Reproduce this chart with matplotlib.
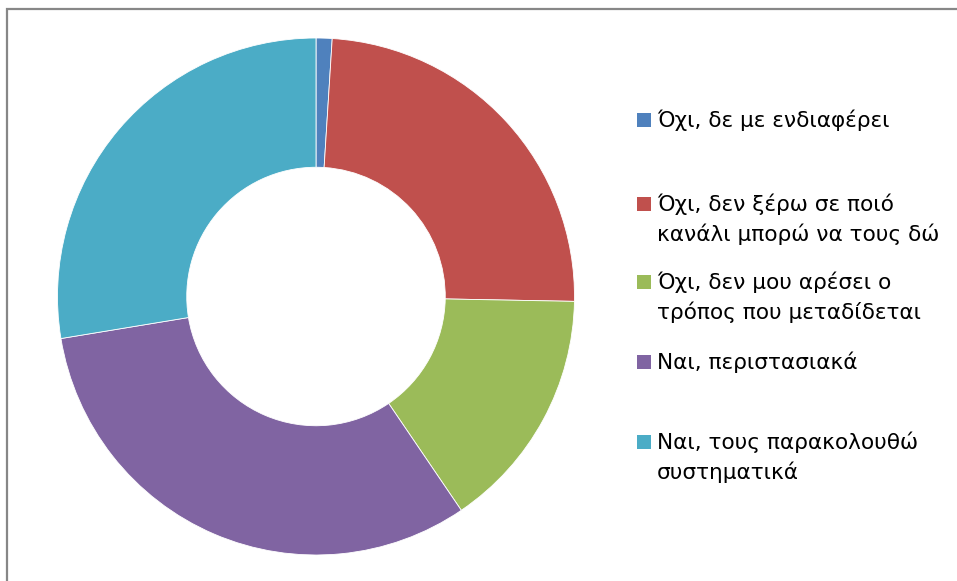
import matplotlib
matplotlib.use("Agg")
import matplotlib.pyplot as plt
from matplotlib.patches import Rectangle

categories = [
    "Όχι, δε με ενδιαφέρει",
    "Όχι, δεν ξέρω σε ποιό\nκανάλι μπορώ να τους δώ",
    "Όχι, δεν μου αρέσει ο\nτρόπος που μεταδίδεται",
    "Ναι, περιστασιακά",
    "Ναι, τους παρακολουθώ\nσυστηματικά",
]
values = [1.0, 24.3, 15.2, 31.9, 27.6]
colors = ["#4F81BD", "#C0504D", "#9BBB59", "#8064A2", "#4BACC6"]

W, H = 957, 581
fig = plt.figure(figsize=(W / 100, H / 100), dpi=100)
plt.rcParams['font.family'] = ['DejaVu Sans']

# outer frame
fig.patches.append(Rectangle((6.5 / W, -0.1), 1.2, 1 - 8.5 / H + 0.1,
                             transform=fig.transFigure, fill=False,
                             edgecolor="#878787", linewidth=1.6))

cx, cy, r = 316, 296.5, 258.5
ax = fig.add_axes([(cx - r) / W, (H - cy - r) / H, 2 * r / W, 2 * r / H])
ax.pie(values, colors=colors, startangle=90, counterclock=False, radius=1,
       wedgeprops=dict(width=0.5, edgecolor="white", linewidth=0.6))
ax.set_xlim(-1, 1)
ax.set_ylim(-1, 1)
ax.set_aspect("equal")
ax.axis("off")

# legend (manual, uneven spacing like the original)
first_line_y = [120, 204, 282, 362, 442]
line_gap = 30
sq = 14
for label, col, y0 in zip(categories, colors, first_line_y):
    fig.patches.append(Rectangle((637 / W, (H - y0 - sq / 2) / H), sq / W, sq / H,
                                 transform=fig.transFigure, facecolor=col,
                                 edgecolor="none"))
    for i, line in enumerate(label.split("\n")):
        fig.text(657 / W, (H - (y0 + i * line_gap)) / H, line, fontsize=15.6,
                 va="center", ha="left", color="black")

fig.savefig("out.png", dpi=100)
